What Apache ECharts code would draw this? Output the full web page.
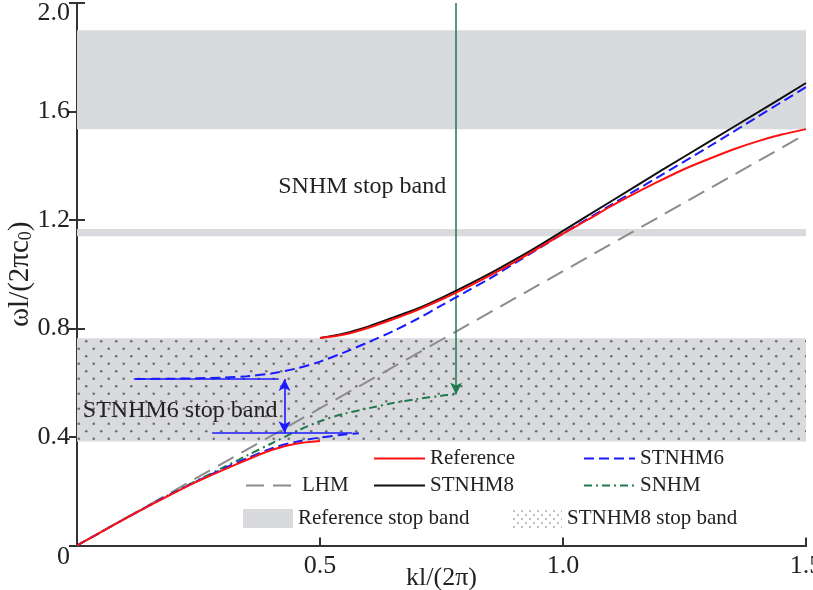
<!DOCTYPE html>
<html><head><meta charset="utf-8">
<script src="https://cdn.jsdelivr.net/npm/echarts@6/dist/echarts.min.js"></script>
<style>html,body{margin:0;padding:0;background:#fff}#c{width:813px;height:590px}</style>
</head><body><div id="c"></div>
<script>
// ---------- data ----------
const xTicks = [0, 0.5, 1.0, 1.5];
const yTicks = [0, 0.4, 0.8, 1.2, 1.6, 2.0];

const refLowX = [0, 0.05, 0.1, 0.15, 0.2, 0.25, 0.3, 0.35, 0.4, 0.45, 0.5];
const refLowY = [0, 0.05, 0.1, 0.148, 0.194, 0.238, 0.278, 0.316, 0.352, 0.375, 0.385];
const refUpX = [0.5, 0.55, 0.6, 0.65, 0.7, 0.75, 0.8, 0.85, 0.9, 0.95, 1.0, 1.05, 1.1, 1.15, 1.2, 1.25, 1.3, 1.35, 1.4, 1.45, 1.5];
const refUpY = [0.765, 0.778, 0.803, 0.834, 0.868, 0.907, 0.95, 0.996, 1.045, 1.097, 1.15, 1.2, 1.252, 1.3, 1.345, 1.388, 1.425, 1.46, 1.49, 1.515, 1.535];

const s8UpX = [0.5, 0.55, 0.6, 0.65, 0.7, 0.75, 0.8, 0.85, 0.9, 0.95, 1.0, 1.1, 1.2, 1.3, 1.4, 1.5];
const s8UpY = [0.765, 0.782, 0.808, 0.84, 0.873, 0.913, 0.957, 1.003, 1.053, 1.105, 1.16, 1.27, 1.38, 1.488, 1.596, 1.705];

const s6LowX = [0, 0.1, 0.2, 0.3, 0.35, 0.4, 0.45, 0.5, 0.55, 0.58];
const s6LowY = [0, 0.1, 0.196, 0.282, 0.322, 0.358, 0.382, 0.398, 0.409, 0.414];
const s6UpX = [0.12, 0.2, 0.3, 0.35, 0.4, 0.45, 0.5, 0.55, 0.6, 0.65, 0.7, 0.75, 0.8, 0.85, 0.9, 0.95, 1.0, 1.1, 1.2, 1.3, 1.4, 1.5];
const s6UpY = [0.614, 0.615, 0.619, 0.624, 0.634, 0.652, 0.678, 0.712, 0.75, 0.79, 0.835, 0.885, 0.935, 0.985, 1.04, 1.095, 1.15, 1.257, 1.363, 1.47, 1.58, 1.69];

const lhmX = [0, 1.5];
const lhmY = [0, 1.517];

const snhmX = [0, 0.1, 0.2, 0.3, 0.35, 0.4, 0.45, 0.5, 0.55, 0.6, 0.65, 0.7, 0.75, 0.78];
const snhmY = [0, 0.1, 0.197, 0.287, 0.332, 0.376, 0.42, 0.458, 0.486, 0.506, 0.525, 0.54, 0.552, 0.557];

// stop bands [low, high]
const refBands = [[1.535, 1.90], [1.14, 1.167]];
const s8Band = [0.383, 0.764];

// annotations
const s6GapLines = [[0.117, 0.415, 0.614], [0.278, 0.566, 0.414]]; // [x0, x1, y]
const s6ArrowX = 0.427;
const snhmArrow = [0.78, 2.0, 0.557]; // x, yTop, yTip
const texts = [
  {t: 'SNHM stop band', x: 0.414, y: 1.322},
  {t: 'STNHM6 stop band', x: 0.012, y: 0.496}
];

// ---------- build ----------
const FONT = '"Liberation Serif", "Times New Roman", serif';
const pairs = (xs, ys) => xs.map((x, i) => [x, ys[i]]);

function dots(size, pts, r, bg, fg) {
  const c = document.createElement('canvas');
  c.width = size; c.height = size;
  const g = c.getContext('2d');
  if (bg) { g.fillStyle = bg; g.fillRect(0, 0, size, size); }
  g.fillStyle = fg;
  pts.forEach(p => { g.beginPath(); g.arc(p[0], p[1], r, 0, Math.PI * 2); g.fill(); });
  return c;
}
const bandPattern = {image: dots(15, [[3.75, 3.75], [11.25, 11.25]], 1.3, '#d9dadd', '#6e6e72'), repeat: 'repeat'};
const legendPattern = {image: dots(8, [[2, 2], [6, 6]], 0.7, '#ffffff', '#555'), repeat: 'repeat'};

const RED = '#ff1010', BLACK = '#111111', BLUE = '#1a1aff', GRAY = '#8c8c8c', GREEN = '#1f7a4d';
const BAND = '#d9dadd';

const lineSer = (name, data, color, type, z) => ({
  name, type: 'line', data, symbol: 'none', smooth: 0.3, z,
  lineStyle: {color, width: 2, type}, itemStyle: {color}, silent: true, animation: false
});

const series = [
  {name: 'Reference stop band', type: 'line', data: [], silent: true, animation: false,
   itemStyle: {color: BAND}, lineStyle: {color: BAND},
   markArea: {silent: true, itemStyle: {color: BAND}, data: refBands.map(b => [{yAxis: b[0]}, {yAxis: b[1]}])}},
  {name: 'STNHM8 stop band', type: 'line', data: [], silent: true, animation: false,
   itemStyle: {color: BAND}, lineStyle: {color: BAND},
   markArea: {silent: true, itemStyle: {color: bandPattern}, data: [[{yAxis: s8Band[0]}, {yAxis: s8Band[1]}]]}},
  lineSer('LHM', pairs(lhmX, lhmY), GRAY, [18, 9], 3),
  lineSer('SNHM', pairs(snhmX, snhmY), GREEN, [8, 4, 2, 4], 4),
  lineSer('STNHM6', pairs(s6LowX, s6LowY), BLUE, [10, 5], 5),
  lineSer('STNHM6', pairs(s6UpX, s6UpY), BLUE, [10, 5], 5),
  lineSer('STNHM8', pairs(s8UpX, s8UpY), BLACK, 'solid', 6),
  lineSer('Reference', pairs(refLowX, refLowY), RED, 'solid', 7),
  lineSer('Reference', pairs(refUpX, refUpY), RED, 'solid', 7),
  {name: 'annot-blue', type: 'line', data: [], silent: true, animation: false, z: 8,
   markLine: {silent: true, animation: false, label: {show: false}, symbolSize: [9, 12],
     lineStyle: {color: BLUE, width: 1.6, type: 'solid'},
     data: s6GapLines.map(l => [{coord: [l[0], l[2]], symbol: 'none'}, {coord: [l[1], l[2]], symbol: 'none'}])
       .concat([[{coord: [s6ArrowX, s6GapLines[0][2]], symbol: 'arrow'}, {coord: [s6ArrowX, s6GapLines[1][2]], symbol: 'arrow'}]])}},
  {name: 'annot-green', type: 'line', data: [], silent: true, animation: false, z: 8,
   markLine: {silent: true, animation: false, label: {show: false}, symbolSize: [9, 12],
     lineStyle: {color: GREEN, width: 1.5, type: 'solid'},
     data: [[{coord: [snhmArrow[0], snhmArrow[1]], symbol: 'none'}, {coord: [snhmArrow[0], snhmArrow[2]], symbol: 'arrow'}]]}}
];

const legTxt = {fontFamily: FONT, fontSize: 21, color: '#222'};
function leg(name, left, cy, w, h, extra, isLine) {
  const it = Object.assign({name}, extra || {});
  const o = {data: [it], left, top: cy - 12, itemWidth: w, itemHeight: h || 14, padding: 0,
    textStyle: legTxt, selectedMode: false, itemGap: 0};
  if (isLine) o.itemStyle = {opacity: 0, borderWidth: 0};
  return o;
}
const legends = [
  leg('Reference', 373, 460, 51, 14, null, true),
  leg('STNHM6', 583, 460, 51, 14, null, true),
  leg('LHM', 245, 487, 51, 14, null, true),
  leg('STNHM8', 373, 487, 51, 14, null, true),
  leg('SNHM', 583, 487, 51, 14, null, true),
  leg('Reference stop band', 243, 520, 50, 19, {icon: 'rect', itemStyle: {color: BAND}}),
  leg('STNHM8 stop band', 512, 520, 50, 19, {icon: 'rect', itemStyle: {color: legendPattern}})
];

const axisLine = {show: true, lineStyle: {color: '#333', width: 2}};
const labStyle = {fontFamily: FONT, fontSize: 26, color: '#222'};

const option = {
  animation: false,
  backgroundColor: '#fff',
  grid: {left: 77, right: 7, top: 3, bottom: 44.5, outerBoundsMode: 'none', containLabel: false},
  legend: legends,
  xAxis: [
    {type: 'value', min: xTicks[0], max: xTicks[xTicks.length - 1], interval: 0.5,
     axisLine, axisTick: {inside: true, length: 8, lineStyle: {color: '#333', width: 2}},
     splitLine: {show: false},
     axisLabel: Object.assign({}, labStyle, {margin: 8, formatter: v => v === 0 ? '' : v.toFixed(1)}),
     name: 'kl/(2π)', nameLocation: 'middle', nameGap: 20, nameMoveOverlap: false,
     nameTextStyle: {fontFamily: FONT, fontSize: 26, color: '#222', verticalAlign: 'top'}},
    {type: 'value', position: 'top', min: 0, max: 1.5, interval: 0.5, axisLine,
     axisTick: {show: false}, axisLabel: {show: false}, splitLine: {show: false}}
  ],
  yAxis: [
    {type: 'value', min: yTicks[0], max: yTicks[yTicks.length - 1], interval: 0.4,
     axisLine, axisTick: {inside: true, length: 8, lineStyle: {color: '#333', width: 2}},
     splitLine: {show: false},
     axisLabel: Object.assign({}, labStyle, {margin: 7,
       formatter: v => v === 0 ? '{z|0}' : (v === 2 ? '{t|2.0}' : v.toFixed(1)),
       rich: {z: {fontFamily: FONT, fontSize: 26, color: '#222', padding: [24, 0, 0, 0]},
              t: {fontFamily: FONT, fontSize: 26, color: '#222', padding: [21, 0, 0, 0]}}}),
     name: 'ωl/(2πc{s|0})', nameLocation: 'middle', nameGap: 42, nameMoveOverlap: false,
     nameTextStyle: {fontFamily: FONT, fontSize: 29, color: '#222',
       rich: {s: {fontFamily: FONT, fontSize: 18, color: '#222', padding: [12, 0, 0, 0]}}}},
    {type: 'value', position: 'right', min: 0, max: 2, interval: 0.4, axisLine,
     axisTick: {inside: true, length: 8, lineStyle: {color: '#333', width: 2}},
     axisLabel: {show: false}, splitLine: {show: false}}
  ],
  series
};

const chart = echarts.init(document.getElementById('c'), null, {renderer: 'canvas'});
chart.setOption(option);
const graphic = texts.map(t => {
  const p = chart.convertToPixel({gridIndex: 0}, [t.x, t.y]);
  return {type: 'text', x: p[0], y: p[1], z: 20, silent: true,
    style: {text: t.t, fontFamily: FONT, fontSize: 24, fill: '#222', verticalAlign: 'middle', align: 'left'}};
});
chart.setOption({graphic});
</script></body></html>
